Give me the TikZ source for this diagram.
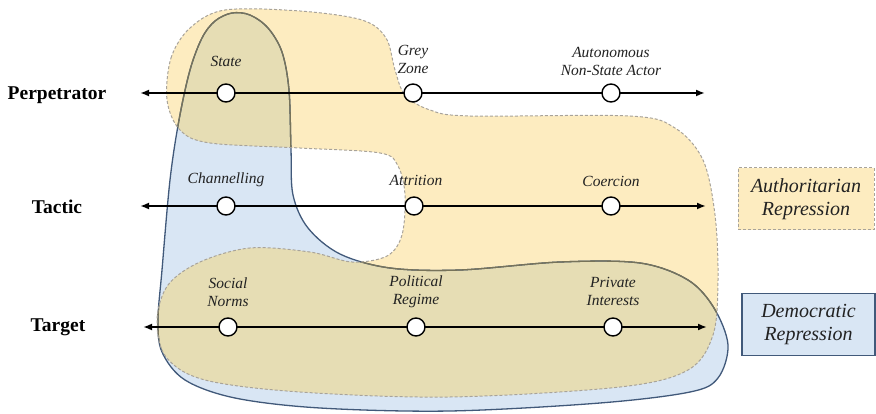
\documentclass[tikz,border=0pt]{standalone}
\usepackage{fontspec}
\setmainfont{Liberation Serif}
\usetikzlibrary{arrows.meta}

\definecolor{authfill}{HTML}{FDECC0}
\definecolor{demofill}{HTML}{D9E6F4}
\definecolor{bothfill}{HTML}{E6DDB4}
\definecolor{dashgray}{HTML}{A8A39A}
\definecolor{demoline}{HTML}{41597A}
\definecolor{demolineover}{HTML}{77735A}
\definecolor{labtext}{HTML}{222222}

% outline of the authoritarian region (a band on each axis joined on the right)
\newcommand\authshape{plot[smooth cycle, tension=0.55] coordinates {
 (167,100) (171,58) (190,28) (225,10) (300,11) (362,20) (386,38) (395,70)
 (405,95) (430,110) (470,116) (630,116) (675,128) (703,160) (715,215)
 (718,280) (713,335) (688,370) (620,387) (450,397) (300,392) (205,380)
 (166,357) (157,320) (168,285) (200,262) (250,248) (310,252) (352,262)
 (387,256) (402,235) (405,195) (398,166) (380,153) (300,148) (210,143)
 (180,130)}}

% outline of the democratic region (a column on the left joined to the target band)
\newcommand\demoshape{plot[smooth cycle, tension=0.55] coordinates {
 (232,13) (250,15) (268,28) (282,52) (289,90) (291,150) (293,195) (308,228)
 (340,254) (390,268) (460,270) (560,262) (640,263) (688,280) (714,308)
 (728,345) (718,378) (690,392) (600,403) (450,411) (320,408) (235,398)
 (185,380) (162,352) (158,320) (162,270) (170,180) (179,120) (190,70)
 (202,38) (215,21)}}

\tikzset{
  axisline/.style={line width=1.8pt, {Latex[length=9pt,width=7pt]}-{Latex[length=9pt,width=7pt]}},
  posmark/.style={circle, draw, fill=white, line width=1.4pt, minimum size=18pt, inner sep=0pt},
  lab/.style={font=\fontsize{15.5}{18}\selectfont\itshape, align=center, text=labtext},
  dim/.style={font=\fontsize{19.5}{22}\selectfont\bfseries},
  keybox/.style={minimum height=62pt, align=center, inner sep=0pt,
    font=\fontsize{20}{23}\selectfont\itshape, text=labtext},
  authline/.style={draw=dashgray, line width=1pt, dash pattern=on 3pt off 2pt},
}

\begin{document}
\begin{tikzpicture}[x=1pt, y=-1pt]
\useasboundingbox (0,0) rectangle (876,414);

% regions
\fill[authfill] \authshape;
\fill[demofill] \demoshape;
\begin{scope}
  \clip \authshape;
  \fill[bothfill] \demoshape;
\end{scope}
\draw[demoline, line width=1.3pt] \demoshape;
\begin{scope}
  \clip \authshape;
  \draw[demolineover, line width=1.3pt] \demoshape;
\end{scope}
\draw[authline] \authshape;

% dimension names
\node[dim] (perp) at (57,95) {Perpetrator};
\node[dim] (tact) at (57,207) {Tactic};
\node[dim] (targ) at (58,327) {Target};

% axes
\coordinate (pL) at (140,93);  \coordinate (pR) at (705,93);
\coordinate (tL) at (140,206); \coordinate (tR) at (706,206);
\coordinate (gL) at (143,327); \coordinate (gR) at (707,327);
\draw[axisline] (pL) -- (pR);
\draw[axisline] (tL) -- (tR);
\draw[axisline] (gL) -- (gR);

% positions on the axes
\node[posmark] (p1) at (226,93) {};
\node[posmark] (p2) at (413,93) {};
\node[posmark] (p3) at (611,93) {};
\node[posmark] (t1) at (226,206) {};
\node[posmark] (t2) at (414,206) {};
\node[posmark] (t3) at (611,206) {};
\node[posmark] (g1) at (228,327) {};
\node[posmark] (g2) at (416,327) {};
\node[posmark] (g3) at (613,327) {};

% position labels
\node[lab] (lp1) at (226,61) {State};
\node[lab] (lp2) at (413,59) {Grey\\Zone};
\node[lab] (lp3) at (611,61) {Autonomous\\Non-State Actor};
\node[lab] (lt1) at (226,180) {Channelling};
\node[lab] (lt2) at (416,180) {Attrition};
\node[lab] (lt3) at (611,181) {Coercion};
\node[lab] (lg1) at (228,292) {Social\\Norms};
\node[lab] (lg2) at (416,292) {Political\\Regime};
\node[lab] (lg3) at (613,291) {Private\\Interests};

% legend
\node[keybox, minimum width=136pt, fill=authfill, authline] (auth) at (806,199)
  {Authoritarian\\Repression};
\node[keybox, minimum width=133pt, fill=demofill, draw=demoline, line width=1.2pt] (demo) at (808.5,324.5)
  {Democratic\\Repression};
\end{tikzpicture}
\end{document}
